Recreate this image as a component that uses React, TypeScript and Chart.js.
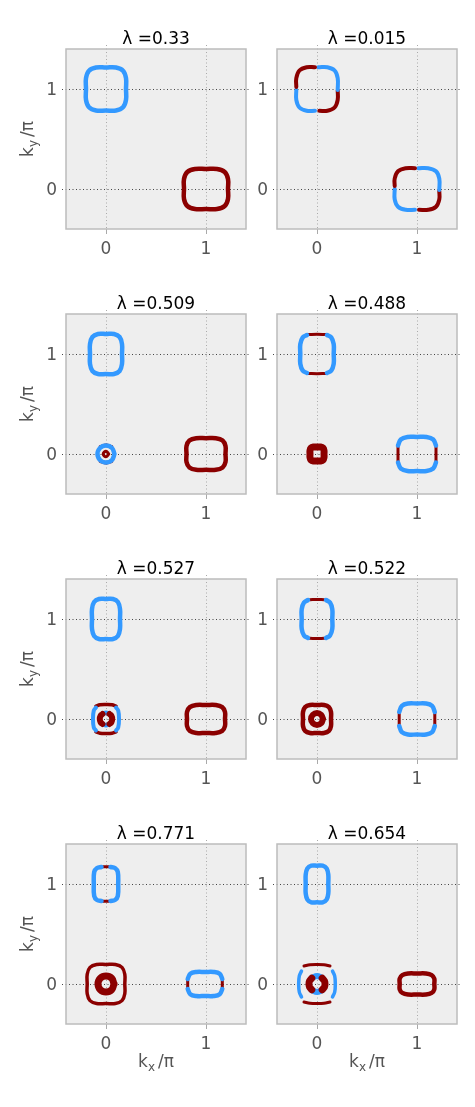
import React, { useEffect, useRef } from 'react';
import { Chart, registerables } from 'chart.js';

Chart.register(...registerables);

const BLUE = '#3399ff';
const RED = '#8b0000';

const TITLES = ['λ =0.33', 'λ =0.015', 'λ =0.509', 'λ =0.488', 'λ =0.527', 'λ =0.522', 'λ =0.771', 'λ =0.654'];
const TICK_VALUES = [0, 1];
const AXIS_MIN = -0.4;
const AXIS_MAX = 1.4;

// ---- λ = 0.33 ----
const A_blue = [[0.2,1],[0.2,1.108],[0.17,1.183],[0.1,1.215],[0,1.215],[-0.1,1.215],[-0.17,1.183],[-0.2,1.108],[-0.2,1],[-0.2,0.892],[-0.17,0.817],[-0.1,0.785],[0,0.785],[0.1,0.785],[0.17,0.817],[0.2,0.892],[0.2,1]];
const A_red = [[1.22,0],[1.22,0.1],[1.187,0.17],[1.11,0.2],[1,0.2],[0.89,0.2],[0.813,0.17],[0.78,0.1],[0.78,0],[0.78,-0.1],[0.813,-0.17],[0.89,-0.2],[1,-0.2],[1.11,-0.2],[1.187,-0.17],[1.22,-0.1],[1.22,0]];

// ---- λ = 0.015 ----
const B_redTL0 = [[-0.207,1.02],[-0.207,1.109],[-0.176,1.185],[-0.104,1.218],[-0.02,1.218]];
const B_blueTR0 = [[0.013,1.218],[0.104,1.218],[0.176,1.185],[0.207,1.109],[0.207,0.99]];
const B_redBR0 = [[0.207,0.985],[0.207,0.891],[0.176,0.815],[0.104,0.782],[0.023,0.782]];
const B_blueBL0 = [[-0.02,0.782],[-0.104,0.782],[-0.176,0.815],[-0.207,0.891],[-0.207,0.99]];
const B_redTL1 = [[0.777,0.03],[0.777,0.104],[0.81,0.177],[0.888,0.208],[0.98,0.208]];
const B_blueTR1 = [[1.013,0.208],[1.112,0.208],[1.19,0.177],[1.223,0.104],[1.223,-0.01]];
const B_redBR1 = [[1.223,-0.02],[1.223,-0.104],[1.19,-0.177],[1.112,-0.208],[1.02,-0.208]];
const B_blueBL1 = [[0.98,-0.208],[0.888,-0.208],[0.81,-0.177],[0.777,-0.104],[0.777,0]];

// ---- λ = 0.509 ----
const C_blue = [[0.16,1],[0.16,1.1],[0.136,1.17],[0.08,1.2],[0,1.2],[-0.08,1.2],[-0.136,1.17],[-0.16,1.1],[-0.16,1],[-0.16,0.9],[-0.136,0.83],[-0.08,0.8],[0,0.8],[0.08,0.8],[0.136,0.83],[0.16,0.9],[0.16,1]];
const C_red = [[1.195,0],[1.195,0.079],[1.166,0.134],[1.098,0.158],[1,0.158],[0.902,0.158],[0.834,0.134],[0.805,0.079],[0.805,0],[0.805,-0.079],[0.834,-0.134],[0.902,-0.158],[1,-0.158],[1.098,-0.158],[1.166,-0.134],[1.195,-0.079],[1.195,0]];
const C_blueSmall = [[0.085,0],[0.06,0.06],[0,0.085],[-0.06,0.06],[-0.085,0],[-0.06,-0.06],[0,-0.085],[0.06,-0.06],[0.085,0]];
const C_redTop = [[-0.055,0.072],[0,0.088],[0.055,0.072]];
const C_redBot = [[-0.055,-0.072],[0,-0.088],[0.055,-0.072]];
const C_redCore = [[0.028,0],[0,0.028],[-0.028,0],[0,-0.028],[0.028,0]];

// ---- λ = 0.488 ----
const D_blueL = [[-0.1,1.19],[-0.142,1.166],[-0.167,1.098],[-0.167,1],[-0.167,0.902],[-0.142,0.834],[-0.1,0.81]];
const D_blueR = [[0.1,1.19],[0.142,1.166],[0.167,1.098],[0.167,1],[0.167,0.902],[0.142,0.834],[0.1,0.81]];
const D_redT = [[-0.085,1.195],[0,1.197],[0.085,1.195]];
const D_redB = [[-0.085,0.805],[0,0.803],[0.085,0.805]];
const D_blueT = [[0.81,0.085],[0.838,0.145],[0.905,0.17],[1,0.17],[1.095,0.17],[1.162,0.145],[1.19,0.085]];
const D_blueB = [[0.81,-0.085],[0.838,-0.145],[0.905,-0.17],[1,-0.17],[1.095,-0.17],[1.162,-0.145],[1.19,-0.085]];
const D_redL = [[0.81,0.08],[0.81,0],[0.81,-0.08]];
const D_redR = [[1.19,0.08],[1.19,0],[1.19,-0.08]];
const D_redCore = [[0.07,0],[0.07,0.035],[0.06,0.06],[0.035,0.07],[0,0.07],[-0.035,0.07],[-0.06,0.06],[-0.07,0.035],[-0.07,0],[-0.07,-0.035],[-0.06,-0.06],[-0.035,-0.07],[0,-0.07],[0.035,-0.07],[0.06,-0.06],[0.07,-0.035],[0.07,0]];

// ---- λ = 0.527 ----
const E_blue = [[0.14,1],[0.14,1.1],[0.119,1.17],[0.07,1.2],[0,1.2],[-0.07,1.2],[-0.119,1.17],[-0.14,1.1],[-0.14,1],[-0.14,0.9],[-0.119,0.83],[-0.07,0.8],[0,0.8],[0.07,0.8],[0.119,0.83],[0.14,0.9],[0.14,1]];
const E_red = [[1.19,0],[1.19,0.07],[1.162,0.119],[1.095,0.14],[1,0.14],[0.905,0.14],[0.838,0.119],[0.81,0.07],[0.81,0],[0.81,-0.07],[0.838,-0.119],[0.905,-0.14],[1,-0.14],[1.095,-0.14],[1.162,-0.119],[1.19,-0.07],[1.19,0]];
const E_outerBlueL = [[-0.1,0.115],[-0.122,0.085],[-0.13,0],[-0.122,-0.085],[-0.1,-0.115]];
const E_outerBlueR = [[0.1,0.115],[0.122,0.085],[0.13,0],[0.122,-0.085],[0.1,-0.115]];
const E_outerRedT = [[-0.1,0.128],[-0.06,0.142],[0,0.145],[0.06,0.142],[0.1,0.128]];
const E_outerRedB = [[-0.1,-0.128],[-0.06,-0.142],[0,-0.145],[0.06,-0.142],[0.1,-0.128]];
const E_innerRedL = [[-0.035,0.05],[-0.055,0.03],[-0.062,0],[-0.055,-0.03],[-0.035,-0.05]];
const E_innerRedR = [[0.035,0.05],[0.055,0.03],[0.062,0],[0.055,-0.03],[0.035,-0.05]];
const E_innerBlueT = [[-0.035,0.05],[0,0.062],[0.035,0.05]];
const E_innerBlueB = [[-0.035,-0.05],[0,-0.062],[0.035,-0.05]];

// ---- λ = 0.522 ----
const F_blueL = [[-0.09,1.19],[-0.13,1.164],[-0.153,1.097],[-0.153,1],[-0.153,0.903],[-0.13,0.836],[-0.09,0.81]];
const F_blueR = [[0.09,1.19],[0.13,1.164],[0.153,1.097],[0.153,1],[0.153,0.903],[0.13,0.836],[0.09,0.81]];
const F_redT = [[-0.07,1.193],[0,1.195],[0.07,1.193]];
const F_redB = [[-0.07,0.807],[0,0.805],[0.07,0.807]];
const F_redRing = [[0.14,0],[0.14,0.07],[0.119,0.119],[0.07,0.14],[0,0.14],[-0.07,0.14],[-0.119,0.119],[-0.14,0.07],[-0.14,0],[-0.14,-0.07],[-0.119,-0.119],[-0.07,-0.14],[0,-0.14],[0.07,-0.14],[0.119,-0.119],[0.14,-0.07],[0.14,0]];
const F_redCore = [[0.06,0],[0.042,0.042],[0,0.06],[-0.042,0.042],[-0.06,0],[-0.042,-0.042],[0,-0.06],[0.042,-0.042],[0.06,0]];
const F_blueT = [[0.822,0.07],[0.849,0.132],[0.911,0.155],[1,0.155],[1.089,0.155],[1.151,0.132],[1.178,0.07]];
const F_blueB = [[0.822,-0.07],[0.849,-0.132],[0.911,-0.155],[1,-0.155],[1.089,-0.155],[1.151,-0.132],[1.178,-0.07]];
const F_redL = [[0.822,0.06],[0.822,0],[0.822,-0.06]];
const F_redR = [[1.178,0.06],[1.178,0],[1.178,-0.06]];

// ---- λ = 0.771 ----
const G_blueL = [[-0.045,1.17],[-0.09,1.16],[-0.118,1.12],[-0.122,1],[-0.118,0.88],[-0.09,0.84],[-0.045,0.83]];
const G_blueR = [[0.045,1.17],[0.09,1.16],[0.118,1.12],[0.122,1],[0.118,0.88],[0.09,0.84],[0.045,0.83]];
const G_redT = [[-0.04,1.172],[0,1.173],[0.04,1.172]];
const G_redB = [[-0.04,0.828],[0,0.827],[0.04,0.828]];
const G_redRing = [[0.188,0],[0.188,0.098],[0.16,0.166],[0.094,0.195],[0,0.195],[-0.094,0.195],[-0.16,0.166],[-0.188,0.098],[-0.188,0],[-0.188,-0.098],[-0.16,-0.166],[-0.094,-0.195],[0,-0.195],[0.094,-0.195],[0.16,-0.166],[0.188,-0.098],[0.188,0]];
const G_redCore = [[0.08,0],[0.057,0.057],[0,0.08],[-0.057,0.057],[-0.08,0],[-0.057,-0.057],[0,-0.08],[0.057,-0.057],[0.08,0]];
const G_blueT = [[0.817,0.05],[0.843,0.102],[0.903,0.12],[0.99,0.12],[1.077,0.12],[1.137,0.102],[1.163,0.05]];
const G_blueB = [[0.817,-0.05],[0.843,-0.102],[0.903,-0.12],[0.99,-0.12],[1.077,-0.12],[1.137,-0.102],[1.163,-0.05]];
const G_redL = [[0.817,0.045],[0.817,0],[0.817,-0.045]];
const G_redR = [[1.163,0.045],[1.163,0],[1.163,-0.045]];

// ---- λ = 0.654 ----
const H_blue = [[0.113,1],[0.113,1.092],[0.096,1.156],[0.057,1.183],[0,1.183],[-0.057,1.183],[-0.096,1.156],[-0.113,1.092],[-0.113,1],[-0.113,0.908],[-0.096,0.844],[-0.057,0.817],[0,0.817],[0.057,0.817],[0.096,0.844],[0.113,0.908],[0.113,1]];
const H_red = [[1.173,0],[1.173,0.053],[1.147,0.089],[1.087,0.105],[1,0.105],[0.913,0.105],[0.853,0.089],[0.827,0.053],[0.827,0],[0.827,-0.053],[0.853,-0.089],[0.913,-0.105],[1,-0.105],[1.087,-0.105],[1.147,-0.089],[1.173,-0.053],[1.173,0]];
const H_outerBlueL = [[-0.155,0.13],[-0.177,0.08],[-0.183,0],[-0.177,-0.08],[-0.155,-0.13]];
const H_outerBlueR = [[0.155,0.13],[0.177,0.08],[0.183,0],[0.177,-0.08],[0.155,-0.13]];
const H_outerRedT = [[-0.13,0.18],[-0.07,0.193],[0,0.196],[0.07,0.193],[0.13,0.18]];
const H_outerRedB = [[-0.13,-0.18],[-0.07,-0.193],[0,-0.196],[0.07,-0.193],[0.13,-0.18]];
const H_innerRedL = [[-0.052,0.058],[-0.075,0.03],[-0.08,0],[-0.075,-0.03],[-0.052,-0.058]];
const H_innerRedR = [[0.052,0.058],[0.075,0.03],[0.08,0],[0.075,-0.03],[0.052,-0.058]];
const H_innerBlueT = [[-0.05,0.062],[0,0.08],[0.05,0.062]];
const H_innerBlueB = [[-0.05,-0.062],[0,-0.08],[0.05,-0.062]];

type Curve = { pts: number[][]; color: string; width: number };
const c = (pts: number[][], color: string, width: number): Curve => ({ pts, color, width });

const PANELS: Curve[][] = [
  [c(A_blue, BLUE, 4.5), c(A_red, RED, 4.5)],
  [c(B_redTL0, RED, 4), c(B_blueTR0, BLUE, 4), c(B_redBR0, RED, 4), c(B_blueBL0, BLUE, 4),
   c(B_redTL1, RED, 4), c(B_blueTR1, BLUE, 4), c(B_redBR1, RED, 4), c(B_blueBL1, BLUE, 4)],
  [c(C_blue, BLUE, 4.5), c(C_red, RED, 4.5), c(C_blueSmall, BLUE, 4.5), c(C_redTop, RED, 3.5), c(C_redBot, RED, 3.5), c(C_redCore, RED, 3)],
  [c(D_blueL, BLUE, 4.5), c(D_blueR, BLUE, 4.5), c(D_redT, RED, 3), c(D_redB, RED, 3),
   c(D_blueT, BLUE, 4.5), c(D_blueB, BLUE, 4.5), c(D_redL, RED, 3), c(D_redR, RED, 3), c(D_redCore, RED, 7)],
  [c(E_blue, BLUE, 4.5), c(E_red, RED, 4.5), c(E_outerBlueL, BLUE, 4), c(E_outerBlueR, BLUE, 4),
   c(E_outerRedT, RED, 3.5), c(E_outerRedB, RED, 3.5), c(E_innerRedL, RED, 6), c(E_innerRedR, RED, 6),
   c(E_innerBlueT, BLUE, 4.5), c(E_innerBlueB, BLUE, 4.5)],
  [c(F_blueL, BLUE, 4.5), c(F_blueR, BLUE, 4.5), c(F_redT, RED, 3), c(F_redB, RED, 3),
   c(F_redRing, RED, 4.5), c(F_redCore, RED, 6),
   c(F_blueT, BLUE, 4.5), c(F_blueB, BLUE, 4.5), c(F_redL, RED, 3), c(F_redR, RED, 3)],
  [c(G_blueL, BLUE, 4.5), c(G_blueR, BLUE, 4.5), c(G_redT, RED, 3), c(G_redB, RED, 3),
   c(G_redRing, RED, 3.5), c(G_redCore, RED, 7),
   c(G_blueT, BLUE, 4.5), c(G_blueB, BLUE, 4.5), c(G_redL, RED, 3), c(G_redR, RED, 3)],
  [c(H_blue, BLUE, 4.5), c(H_red, RED, 4.5), c(H_outerBlueL, BLUE, 3.5), c(H_outerBlueR, BLUE, 3.5),
   c(H_outerRedT, RED, 3), c(H_outerRedB, RED, 3), c(H_innerRedL, RED, 7), c(H_innerRedR, RED, 7),
   c(H_innerBlueT, BLUE, 6), c(H_innerBlueB, BLUE, 6)],
];

const FONT = '"DejaVu Sans", sans-serif';
const PLOT_TOP = 49;
const PLOT_SIZE = 180;

function drawAxisLabel(ctx: CanvasRenderingContext2D, sub: string, cx: number, baseline: number) {
  const big = `17px ${FONT}`;
  const small = `12px ${FONT}`;
  ctx.font = big;
  const wk = ctx.measureText('k').width;
  const wr = ctx.measureText('/π').width;
  ctx.font = small;
  const ws = ctx.measureText(sub).width;
  const gap = 3;
  let x = cx - (wk + ws + gap + wr) / 2;
  ctx.textAlign = 'left';
  ctx.textBaseline = 'alphabetic';
  ctx.fillStyle = '#555555';
  ctx.font = big;
  ctx.fillText('k', x, baseline);
  x += wk;
  ctx.font = small;
  ctx.fillText(sub, x, baseline + 4);
  x += ws + gap;
  ctx.font = big;
  ctx.fillText('/π', x, baseline);
}

function makeDecor(title: string, showX: boolean, showY: boolean) {
  return {
    id: 'decor',
    beforeDraw(chart: any) {
      const { ctx, chartArea: a } = chart;
      ctx.save();
      ctx.fillStyle = '#eeeeee';
      ctx.fillRect(a.left, a.top, a.right - a.left, a.bottom - a.top);
      ctx.restore();
    },
    beforeDatasetsDraw(chart: any) {
      const { ctx, chartArea: a, scales } = chart;
      ctx.save();
      ctx.lineWidth = 1;
      for (const v of TICK_VALUES) {
        const px = Math.round(scales.x.getPixelForValue(v)) + 0.5;
        ctx.strokeStyle = '#aaaaaa';
        ctx.setLineDash([1, 2.5]);
        ctx.beginPath();
        ctx.moveTo(px, a.top - 4);
        ctx.lineTo(px, a.bottom);
        ctx.stroke();
        ctx.setLineDash([]);
        ctx.beginPath();
        ctx.moveTo(px, a.bottom);
        ctx.lineTo(px, a.bottom + 5);
        ctx.stroke();
      }
      for (const v of TICK_VALUES) {
        const py = Math.round(scales.y.getPixelForValue(v)) + 0.5;
        ctx.strokeStyle = '#444444';
        ctx.setLineDash([1, 2.5]);
        ctx.beginPath();
        ctx.moveTo(a.left - 4, py);
        ctx.lineTo(a.right + 4, py);
        ctx.stroke();
      }
      ctx.setLineDash([]);
      ctx.strokeStyle = '#bcbcbc';
      ctx.lineWidth = 1.5;
      ctx.strokeRect(a.left, a.top, a.right - a.left, a.bottom - a.top);
      ctx.restore();
    },
    afterDraw(chart: any) {
      const { ctx, chartArea: a } = chart;
      ctx.save();
      ctx.fillStyle = '#000000';
      ctx.font = `17px ${FONT}`;
      ctx.textAlign = 'center';
      ctx.textBaseline = 'alphabetic';
      ctx.fillText(title, (a.left + a.right) / 2, a.top - 5);
      if (showX) {
        drawAxisLabel(ctx, 'x', (a.left + a.right) / 2, a.bottom + 43);
      }
      if (showY) {
        ctx.save();
        ctx.translate(33, (a.top + a.bottom) / 2);
        ctx.rotate(-Math.PI / 2);
        drawAxisLabel(ctx, 'y', 0, 0);
        ctx.restore();
      }
      ctx.restore();
    },
  };
}

function Panel({ index }: { index: number }) {
  const ref = useRef<HTMLCanvasElement>(null);
  const col = index % 2;
  const row = Math.floor(index / 2);
  const w = col ? 225 : 250;
  const h = row === 3 ? 312 : 265;
  const left = col ? 250 : 0;
  const top = row * 265;
  const yWidth = col ? 27 : 66;
  const rightPad = col ? 18 : 4;

  useEffect(() => {
    const tickFont = { family: FONT, size: 17 };
    const chart = new Chart(ref.current as HTMLCanvasElement, {
      type: 'scatter',
      data: {
        datasets: PANELS[index].map((cv) => ({
          data: cv.pts.map(([x, y]) => ({ x, y })),
          showLine: true,
          borderColor: cv.color,
          backgroundColor: cv.color,
          borderWidth: cv.width,
          pointRadius: 0,
          tension: 0.4,
          fill: false,
          borderCapStyle: 'round',
          borderJoinStyle: 'round',
        })) as any,
      },
      options: {
        animation: false,
        responsive: false,
        maintainAspectRatio: false,
        devicePixelRatio: 1,
        events: [],
        layout: { padding: { top: PLOT_TOP, left: 0, right: rightPad, bottom: 0 } },
        plugins: { legend: { display: false }, tooltip: { enabled: false }, title: { display: false } },
        scales: {
          x: {
            type: 'linear',
            min: AXIS_MIN,
            max: AXIS_MAX,
            afterBuildTicks: (s: any) => { s.ticks = TICK_VALUES.map((value) => ({ value })); },
            afterFit: (s: any) => { s.height = h - PLOT_TOP - PLOT_SIZE; },
            grid: { display: false, drawTicks: false },
            border: { display: false },
            ticks: { color: '#555555', font: tickFont, padding: 10, maxRotation: 0, autoSkip: false },
          },
          y: {
            type: 'linear',
            min: AXIS_MIN,
            max: AXIS_MAX,
            afterBuildTicks: (s: any) => { s.ticks = TICK_VALUES.map((value) => ({ value })); },
            afterFit: (s: any) => { s.width = yWidth; },
            grid: { display: false, drawTicks: false },
            border: { display: false },
            ticks: { color: '#555555', font: tickFont, padding: 9, labelOffset: 2, autoSkip: false },
          },
        },
      } as any,
      plugins: [makeDecor(TITLES[index], row === 3, col === 0)],
    });
    return () => chart.destroy();
  }, []);

  return (
    <canvas
      ref={ref}
      width={w}
      height={h}
      style={{ position: 'absolute', left, top, width: w, height: h, display: 'block' }}
    />
  );
}

export default function App() {
  return (
    <div style={{ position: 'absolute', left: 0, top: 0, width: 475, height: 1107, background: '#ffffff', overflow: 'hidden' }}>
      {TITLES.map((_, i) => (
        <Panel key={i} index={i} />
      ))}
    </div>
  );
}
